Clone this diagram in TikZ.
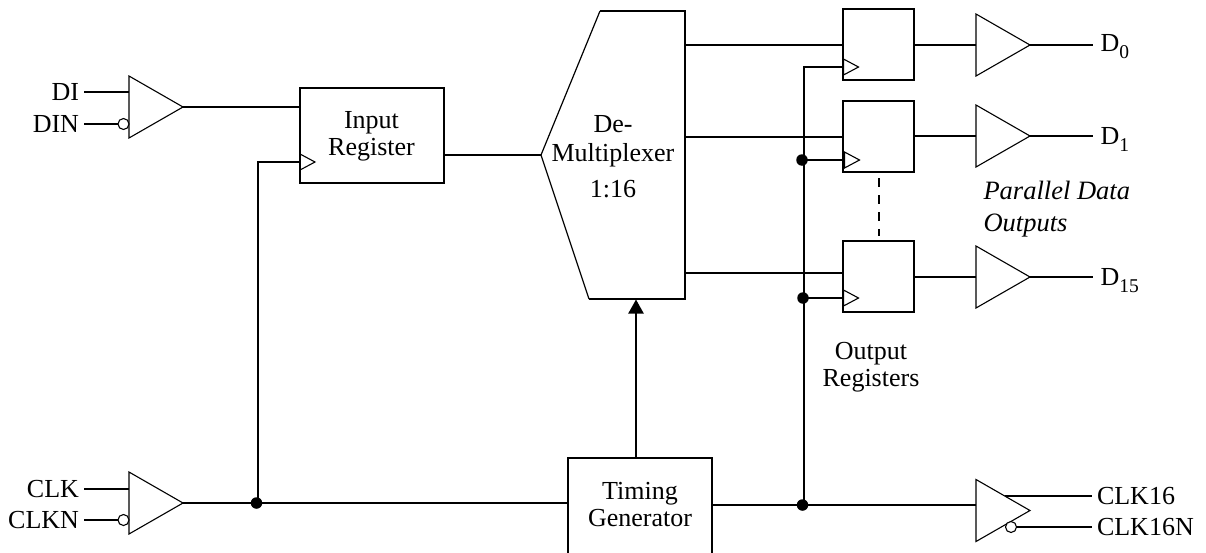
\documentclass[tikz,border=0pt]{standalone}
\usepackage{fontspec}
\setmainfont{Liberation Serif}
\usetikzlibrary{shapes.geometric,arrows.meta}
\newcommand{\dsub}[1]{\raisebox{-7pt}{\fontsize{19.5}{20}\selectfont #1}}
\tikzset{
  x=1pt,y=-1pt,
  wire/.style={line width=2.2pt},
  thin wire/.style={line width=1.2pt},
  buf/.style={draw,line width=1.1pt,isosceles triangle,isosceles triangle apex angle=60,isosceles triangle stretches,
    minimum width=62pt,minimum height=54pt,inner sep=0pt,outer sep=0pt,anchor=west},
  clkmark/.style={draw,line width=1.1pt,isosceles triangle,isosceles triangle stretches,
    minimum width=16pt,minimum height=15pt,inner sep=0pt,outer sep=0pt,anchor=west},
  bubble/.style={draw,line width=1.1pt,fill=white,circle,minimum size=11pt,inner sep=0pt,outer sep=0pt},
  dot/.style={fill=black,circle,minimum size=11.5pt,inner sep=0pt,outer sep=0pt},
  box/.style={draw,line width=2.2pt,inner sep=0pt,outer sep=0pt,align=center,
    font=\fontsize{26}{27}\selectfont},
  reg/.style={box,minimum width=71pt,minimum height=71pt},
  txt/.style={inner sep=0pt,outer sep=0pt,font=\fontsize{26}{27}\selectfont,align=center},
  pin/.style={inner sep=5pt,outer sep=0pt,text height=17pt,text depth=0pt,font=\fontsize{26}{27}\selectfont},
}
\begin{document}
\begin{tikzpicture}
\useasboundingbox (0,0) rectangle (1206,552);
% boxes
\node[box,minimum width=144pt,minimum height=95pt] (ireg) at (372,135.5) {};
\node[txt] (iregt) at (371.5,135.8) {Input\\Register};
\node[box,minimum width=144pt,minimum height=98pt] (tgen) at (640,507) {};
\node[txt] (tgent) at (640,504.5) {Timing\\Generator};
\node[reg] (r0) at (878.5,44.5) {};
\node[reg] (r1) at (878.5,136.5) {};
\node[reg] (r15) at (878.5,276.5) {};
% demultiplexer
\coordinate (dmw) at (541,155);
\coordinate (dmnw) at (600,11);
\coordinate (dmne) at (685,11);
\coordinate (dmse) at (685,299);
\coordinate (dmsw) at (589,299);
\draw[thin wire] (dmsw)--(dmw)--(dmnw);
\draw[wire,line join=miter] (dmnw)--(dmne)--(dmse)--(dmsw);
\node[txt] (dmt) at (613,156.3) {De-\\[2.7pt]Multiplexer\\[8.5pt]1:16};
\coordinate (dmb) at (636,299.5);
% buffers
\node[buf] (bdi) at (129,107) {};
\node[buf] (bclk) at (129,503) {};
\node[buf] (bd0) at (976,45) {};
\node[buf] (bd1) at (976,136) {};
\node[buf] (bd15) at (976,277) {};
\node[buf] (bck16) at (976,510.5) {};
% clock marks
\node[clkmark] (c0) at (843.5,67) {};
\node[clkmark] (c1) at (844.5,160) {};
\node[clkmark] (c15) at (843.5,298) {};
\node[clkmark] (cir) at (300,162) {};
% pins
\node[pin,anchor=east] (lDI) at (84,92) {DI};
\node[pin,anchor=east] (lDIN) at (84,124) {DIN};
\node[pin,anchor=east] (lCLK) at (84,489) {CLK};
\node[pin,anchor=east] (lCLKN) at (84,520) {CLKN};
\node[pin,anchor=west] (lC16) at (1092,496) {CLK16};
\node[pin,anchor=west] (lC16N) at (1092,527) {CLK16N};
\node[txt,anchor=base west] (lD0) at (1100.5,51) {D\dsub{0}};
\node[txt,anchor=base west] (lD1) at (1100.5,144) {D\dsub{1}};
\node[txt,anchor=base west] (lD15) at (1100.5,285) {D\dsub{15}};
\coordinate (eD0) at (1093,45);
\coordinate (eD1) at (1093,136);
\coordinate (eD15) at (1093,277);
% bubbles
\node[bubble] (bbDIN) at (123.5,124) {};
\node[bubble] (bbCLKN) at (123.5,520) {};
\node[bubble] (bbC16N) at (1011,527) {};
\coordinate (c16s) at (1005,496);
% junctions
\node[dot] (jclk) at (256.5,503) {};
\node[dot] (jout) at (802.5,505) {};
\node[dot] (j1) at (802,160) {};
\node[dot] (j15) at (803,298) {};
\coordinate (topc) at (804,67);
\coordinate (botc) at (804,505);
\coordinate (irv) at (258,503);
\coordinate (dA) at (879,178);
\coordinate (dB) at (879,236);
% labels
\node[txt] (lout) at (871,367) {Output\\Registers};
\node[txt,anchor=base west,font=\fontsize{26.5}{27}\selectfont\itshape] (lp1) at (983.5,199) {Parallel Data};
\node[txt,anchor=base west,font=\fontsize{26.5}{27}\selectfont\itshape] (lp2) at (983.5,231) {Outputs};
% connectors
\draw[wire] (lDI.east) -- (lDI.east -| bdi.west);
\draw[wire] (lDIN.east) -- (bbDIN.west);
\draw[wire] (lCLK.east) -- (lCLK.east -| bclk.west);
\draw[wire] (lCLKN.east) -- (bbCLKN.west);
\draw[wire] (bdi.apex) -- (bdi.apex -| ireg.west);
\draw[wire] (ireg.east |- dmw) -- (dmw);
\draw[wire] (bclk.apex) -- (tgen.west |- bclk.apex);
\draw[wire] (irv) |- (cir.west);
\draw[wire] (tgen.east |- jout) -- (bck16.west |- jout);
\draw[wire] (botc) -- (topc) -- (c0.west);
\draw[wire] (j1.center) -- (c1.west);
\draw[wire] (j15.center) -- (c15.west);
\draw[line width=2.2pt,-{Triangle[length=14pt,width=15pt]}] (tgen.north -| dmb) -- (dmb);
\draw[wire] (685,44.7) -- (r0.west |- 0,44.7);
\draw[wire] (685,136.7) -- (r1.west |- 0,136.7);
\draw[wire] (685,272.7) -- (r15.west |- 0,272.7);
\draw[wire] (r0.east |- bd0.apex) -- (bd0.west);
\draw[wire] (r1.east |- bd1.apex) -- (bd1.west);
\draw[wire] (r15.east |- bd15.apex) -- (bd15.west);
\draw[wire] (bd0.apex) -- (eD0);
\draw[wire] (bd1.apex) -- (eD1);
\draw[wire] (bd15.apex) -- (eD15);
\draw[wire] (c16s) -- (lC16.west);
\draw[wire] (bbC16N.east) -- (lC16N.west);
\draw[wire,dash pattern=on 9pt off 8pt] (dA) -- (dB);
\end{tikzpicture}
\end{document}
